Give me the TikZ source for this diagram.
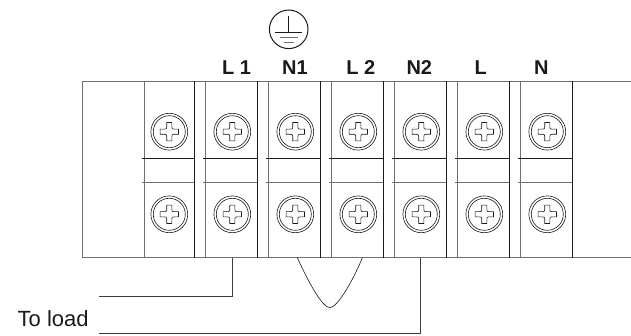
\documentclass[tikz,border=0pt]{standalone}
\usepackage{fontspec}
\setmainfont{Liberation Sans}
\definecolor{inkk}{HTML}{1A1A1A}
\definecolor{soft}{HTML}{707070}
\tikzset{
  x=1pt,y=-1pt,
  softline/.style={draw=soft,line width=1pt},
  darkline/.style={draw=inkk,line width=0.8pt},
  thinline/.style={draw=inkk,line width=0.6pt},
  wire/.style={draw=inkk!85,line width=0.9pt},
  term/.style={font=\fontsize{20}{22}\selectfont\bfseries,text=inkk,inner sep=0pt,anchor=base},
  plain/.style={font=\fontsize{22}{24}\selectfont,text=inkk,inner sep=0pt,anchor=base west},
}
\newcommand{\screwhead}[2]{%
  \begin{scope}[shift={(#1,#2)}]
    \draw[thinline] (0,0) circle[radius=18.4];
    \draw[thinline] (0,0) circle[radius=16];
    \draw[thinline,line join=round]
      (-2.6,-9.2) -- (2.6,-9.2) -- (2.6,-4.5) .. controls (2.8,-2.8) .. (4.5,-2.6) -- (9.2,-2.6) -- (9.2,2.6) -- (4.5,2.6)
      .. controls (2.8,2.8) .. (2.6,4.5) -- (2.6,9.2) -- (-2.6,9.2) -- (-2.6,4.5)
      .. controls (-2.8,2.8) .. (-4.5,2.6) -- (-9.2,2.6) -- (-9.2,-2.6) -- (-4.5,-2.6)
      .. controls (-2.8,-2.8) .. (-2.6,-4.5) -- cycle;
  \end{scope}}
\begin{document}
\begin{tikzpicture}
\useasboundingbox (0,0) rectangle (631,336);
\draw[softline] (631,81.5) -- (82.5,81.5) -- (82.5,257.7) -- (631,257.7);
\foreach \l/\r in {144/194.3,205/257.3,268.3/320.3,331.3/383.3,394.3/446.3,457.3/509.3,520.3/572.3}{
  \draw[softline,line width=0.9pt] (\l,81.5) -- (\l,257.7);
  \draw[darkline] (\r,81.5) -- (\r,257.7);
  \draw[darkline] (\l-2.3,158.3) -- (\r,158.3);
  \draw[softline,line width=0.9pt] (\l-2.3,182.3) -- (\r,182.3);
}
\foreach \c in {169.3,232.3,295.3,358.3,421.3,484.3,547.3}{
  \screwhead{\c}{131.7}
  \screwhead{\c}{214.3}
}
% earth symbol
\draw[darkline,line width=1pt] (288.7,29.3) circle[radius=19.3];
\draw[thinline] (288.7,16) -- (288.7,32);
\draw[thinline] (275.2,32) -- (302,32);
\draw[draw=soft,line width=0.7pt] (280,37) -- (297.5,37);
\draw[draw=soft,line width=0.7pt] (284,42) -- (293.5,42);
% labels
\node[term] (tL1) at (236.5,74.8) {L 1};
\node[term] (tN1) at (295,74.8) {N1};
\node[term] (tL2) at (360.7,74.8) {L 2};
\node[term] (tN2) at (419.3,74.8) {N2};
\node[term] (tL) at (480.7,74.8) {L};
\node[term] (tN) at (541.3,74.8) {N};
\node[plain] (load) at (17.5,326.7) {To load};
% wires
\coordinate (a1) at (232.5,257.7);
\coordinate (a2) at (232.5,296.7);
\coordinate (a3) at (99,296.7);
\coordinate (b1) at (420.3,257.7);
\coordinate (b2) at (420.3,333.3);
\coordinate (b3) at (99,333.3);
\coordinate (v1) at (297.3,257.7);
\coordinate (v2) at (362.3,257.7);
\coordinate (v3) at (330,307.7);
\draw[wire] (a1) -- (a2) -- (a3);
\draw[wire] (b1) -- (b2) -- (b3);
\draw[thinline] (v1) .. controls (308,281) and (322,307.7) .. (v3) .. controls (337,307.7) and (353,281) .. (v2);
\end{tikzpicture}
\end{document}
